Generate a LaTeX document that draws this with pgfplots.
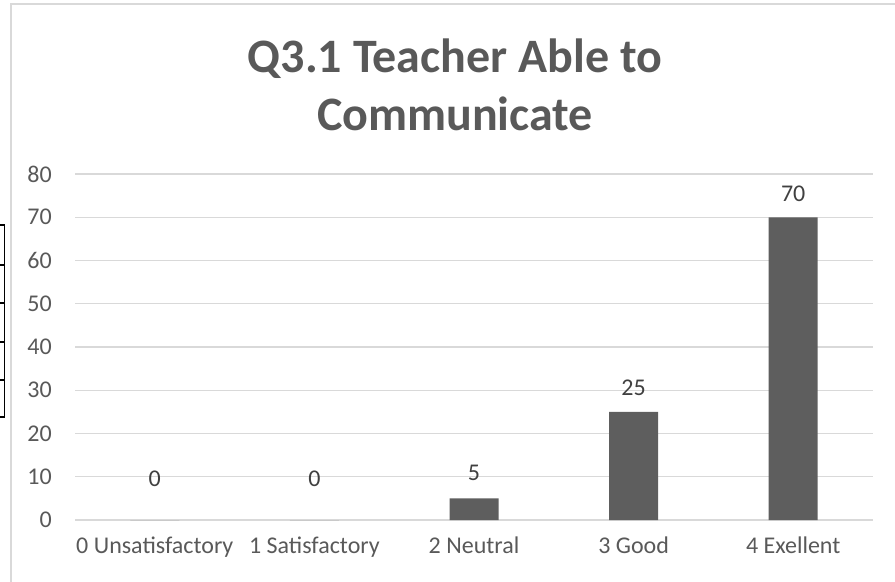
\documentclass[border=0pt]{standalone}
\usepackage{pgfplots}
\pgfplotsset{compat=1.18}
\usepackage{fontspec}
\setmainfont{Carlito}
\definecolor{txt}{HTML}{595959}
\definecolor{lbl}{HTML}{404040}
\definecolor{barc}{HTML}{5E5E5E}
\definecolor{gridc}{HTML}{D9D9D9}
\begin{document}
\begin{tikzpicture}[x=1bp,y=1bp]
\useasboundingbox (0,0) rectangle (895,-582);
\draw[gridc, line width=1.5bp] (11,-600) -- (11,-4) -- (900,-4);
\draw[black, line width=1.5bp] (0,-225) -- (4.5,-225) -- (4.5,-417) -- (0,-417);
\foreach \yy in {265,303,342,380} \draw[black,line width=1.5bp] (0,-\yy) -- (4.5,-\yy);
\node[text=txt, font=\fontsize{48bp}{56bp}\selectfont\bfseries, anchor=base, inner sep=0pt] at (455,-73) {Q3.1 Teacher Able to};
\node[text=txt, font=\fontsize{48bp}{56bp}\selectfont\bfseries, anchor=base, inner sep=0pt] at (455,-131) {Communicate};
\begin{axis}[
  at={(75bp,-520bp)}, anchor=south west,
  scale only axis, width=798bp, height=346bp,
  xmin=-0.5, xmax=4.5, ymin=0, ymax=80,
  ytick={0,10,...,80}, xtick={0,1,2,3,4},
  xticklabels={0 Unsatisfactory,1 Satisfactory,2 Neutral,3 Good,4 Exellent},
  axis line style={draw=none},
  major tick length=0pt,
  tick style={draw=none},
  ymajorgrids,
  grid style={gridc, line width=1.3bp},
  /pgf/number format/assume math mode=true,
  tick label style={text=txt, font=\fontsize{24bp}{28bp}\selectfont, inner sep=0pt},
  yticklabel style={anchor=east, xshift=-23bp},
  xticklabel style={anchor=base, yshift=-33bp},
]
\addplot[ybar, fill=barc, draw=none, bar width=49bp,
  visualization depends on={\thisrow{off}\as\myoff},
  nodes near coords,
  nodes near coords style={text=lbl, font=\fontsize{24bp}{28bp}\selectfont, anchor=center, inner sep=0pt, yshift=\myoff},
] table {
x y off
0 0 41
1 0 41
2 5 26
3 25 24
4 70 24
};
\end{axis}
\end{tikzpicture}
\end{document}
